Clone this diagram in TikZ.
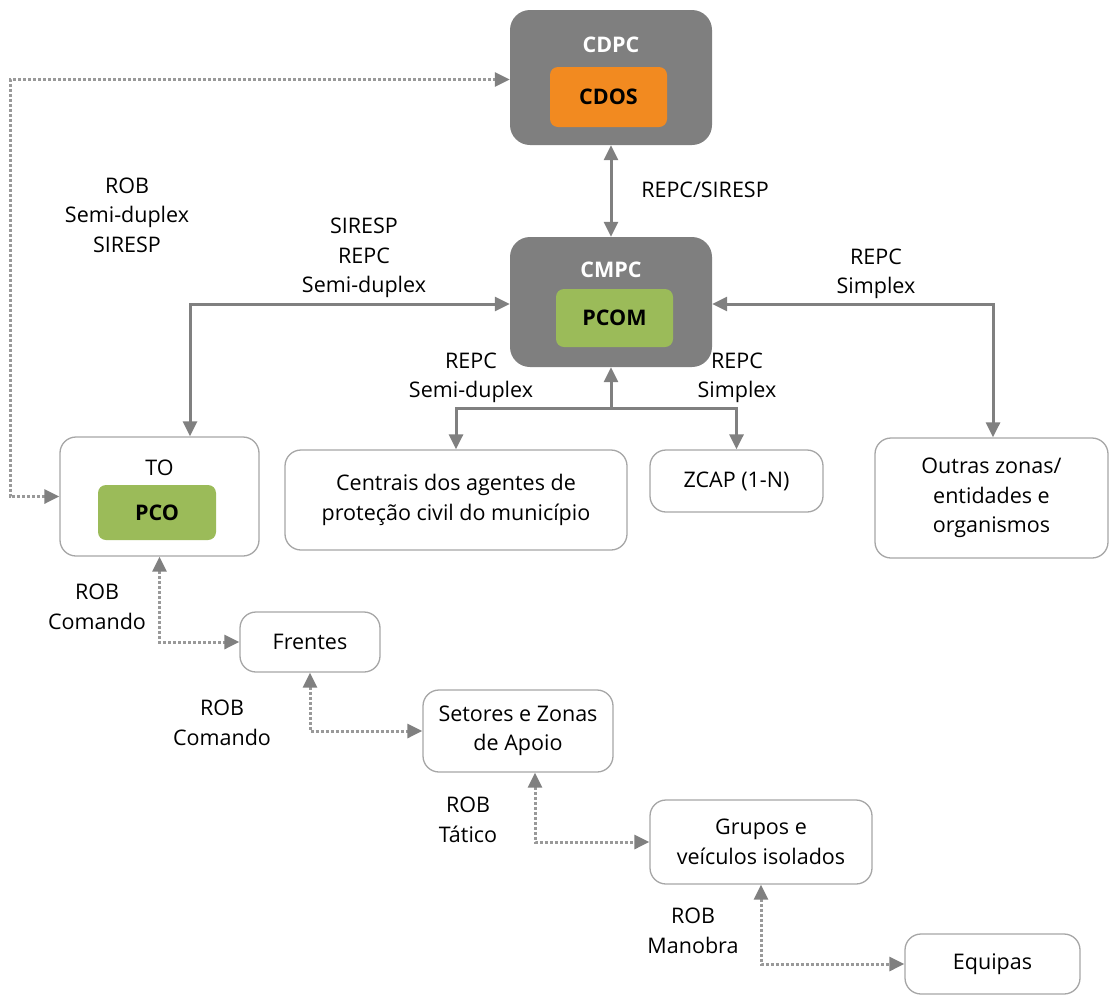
\documentclass[tikz,border=0pt]{standalone}
\usepackage{fontspec}
\setmainfont{Open Sans}
\usetikzlibrary{arrows.meta}
\definecolor{boxgray}{HTML}{7F7F7F}
\definecolor{cdosorange}{HTML}{F28A20}
\definecolor{pcgreen}{HTML}{9BBB59}
\definecolor{edgegray}{HTML}{A6A6A6}
\definecolor{linkgray}{HTML}{808080}
\definecolor{dotgray}{HTML}{999999}
\begin{document}
\begin{tikzpicture}[x=1pt,y=-1pt,
  font=\fontsize{21.5}{29.5}\selectfont,
  centre/.style={draw=none,fill=boxgray,rounded corners=20pt,inner sep=0pt},
  inner/.style={rounded corners=8pt,inner sep=0pt,font=\fontsize{21.5}{29.5}\selectfont\bfseries},
  unit/.style={draw=edgegray,line width=1.3pt,fill=white,rounded corners=16pt,inner sep=0pt,align=center},
  lbl/.style={align=center,inner sep=0pt},
  link/.style={draw=linkgray,line width=3pt,{Triangle[length=15pt,width=14pt]}-{Triangle[length=15pt,width=14pt]}},
  dotlink/.style={draw=dotgray,line width=3pt,dash pattern=on 3pt off 2pt,{Triangle[length=15pt,width=14pt,color=linkgray]}-{Triangle[length=15pt,width=14pt,color=linkgray]}}
]
\useasboundingbox (0,0) rectangle (1109,994);

% district and municipal centres
\node[centre,minimum width=202pt,minimum height=135pt] (cdpc) at (611,77.5) {};
\node[lbl,text=white,font=\fontsize{21.5}{29.5}\selectfont\bfseries] (cdpct) at (611,45) {CDPC};
\node[inner,fill=cdosorange,minimum width=117pt,minimum height=60pt] (cdos) at (608.5,97) {CDOS};

\node[centre,minimum width=202pt,minimum height=130pt] (cmpc) at (611,302) {};
\node[lbl,text=white,font=\fontsize{21.5}{29.5}\selectfont\bfseries] (cmpct) at (611,270) {CMPC};
\node[inner,fill=pcgreen,minimum width=117pt,minimum height=58pt] (pcom) at (614.5,318) {PCOM};

% theatre of operations
\node[unit,minimum width=199pt,minimum height=119pt] (to) at (159.5,496.5) {};
\node[lbl] (tot) at (159.5,468) {TO};
\node[inner,fill=pcgreen,minimum width=118pt,minimum height=55pt] (pco) at (157,512.5) {PCO};

% other entities
\node[unit,minimum width=342pt,minimum height=100pt] (centrais) at (456,500) {Centrais dos agentes de\\proteção civil do município};
\node[unit,minimum width=173pt,minimum height=62pt] (zcap) at (736.5,481) {ZCAP (1-N)};
\node[unit,minimum width=233pt,minimum height=120pt] (outras) at (991.5,498) {Outras zonas/\\entidades e\\organismos};

% operational chain
\node[unit,minimum width=140pt,minimum height=60pt] (frentes) at (310,642) {Frentes};
\node[unit,minimum width=190pt,minimum height=82pt] (setores) at (518,731) {Setores e Zonas\\de Apoio};
\node[unit,minimum width=222pt,minimum height=84pt] (grupos) at (761,842) {Grupos e\\veículos isolados};
\node[unit,minimum width=175pt,minimum height=60pt] (equipas) at (992.5,964) {Equipas};

% radio links
\draw[link] (cdpc.south) -- (cmpc.north);
\draw[link] ([yshift=-2pt]cmpc.west) -| ([xshift=30.5pt]to.north);
\draw[link] ([yshift=-2pt]cmpc.east) -| ([xshift=1.5pt]outras.north);
\draw[draw=linkgray,line width=3pt,{Triangle[length=15pt,width=14pt]}-] (cmpc.south) -- ++(0,41) coordinate (fork);
\draw[draw=linkgray,line width=3pt,-{Triangle[length=15pt,width=14pt]}] (fork) -| (centrais.north);
\draw[draw=linkgray,line width=3pt,-{Triangle[length=15pt,width=14pt]}] (fork) -| (zcap.north);

\coordinate (leftrail) at (10,0);
\draw[dotlink] ([yshift=-2pt]cdpc.west) -| (leftrail |- to.west) -- (to.west);
\draw[dotlink] (to.south) |- (frentes.west);
\draw[dotlink] (frentes.south) |- (setores.west);
\draw[dotlink] ([xshift=17pt]setores.south) |- (grupos.west);
\draw[dotlink] (grupos.south) |- (equipas.west);

% link labels
\node[lbl] (l1) at (705,190) {REPC/SIRESP};
\node[lbl] (l2) at (127,215) {ROB\\Semi-duplex\\SIRESP};
\node[lbl] (l3) at (364,258) {SIRESP\\REPC\\Semi-duplex};
\node[lbl] (l4) at (876,274) {REPC\\Simplex};
\node[lbl] (l5) at (471,378) {REPC\\Semi-duplex};
\node[lbl] (l6) at (737,378) {REPC\\Simplex};
\node[lbl] (l7) at (97,607) {ROB\\Comando};
\node[lbl] (l8) at (222,723) {ROB\\Comando};
\node[lbl] (l9) at (468,820) {ROB\\Tático};
\node[lbl] (l10) at (693,931) {ROB\\Manobra};
\end{tikzpicture}
\end{document}
